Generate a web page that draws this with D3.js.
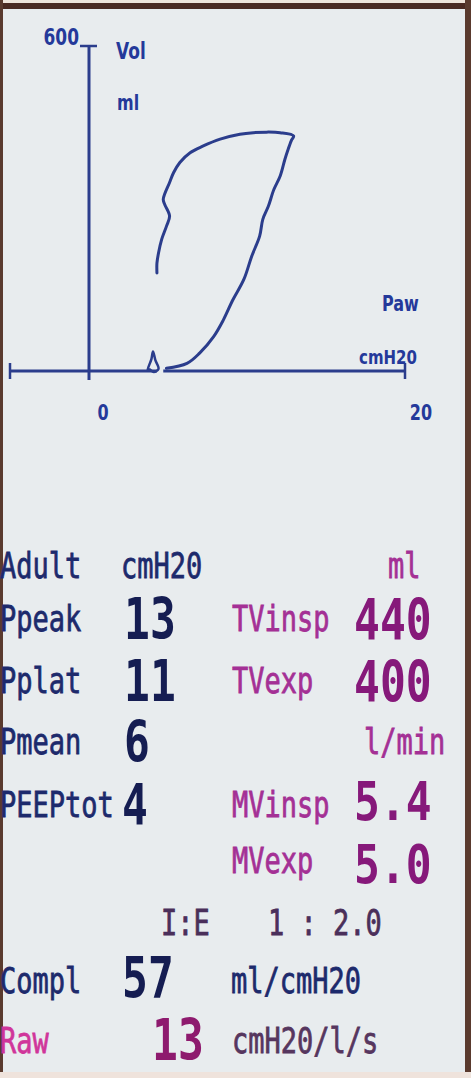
<!DOCTYPE html>
<html>
<head>
<meta charset="utf-8">
<script src="https://cdn.jsdelivr.net/npm/d3@7"></script>
<style>
  html, body { margin: 0; padding: 0; background: #e8ecee; }
  svg { display: block; }
</style>
</head>
<body>
<svg id="chart"></svg>
<script>
// Pressure / volume loop (cmH2O, ml)
const loopPressure = [4.9, 6.2, 7.0, 7.9, 8.5, 9.1, 9.8, 10.3, 10.8, 11.0, 11.35, 11.7, 12.1, 12.4, 12.6, 12.8, 12.95,
  12.1, 11.25, 10.4, 9.55, 8.3, 7.2, 6.4, 5.75, 5.35, 5.1, 4.7, 4.8, 5.1, 4.9, 4.6, 4.4, 4.3, 4.3];
const loopVolume = [5, 14, 33, 64, 94, 131, 169, 212, 249, 280, 304, 335, 360, 391, 409, 425, 434,
  440, 441, 440, 437, 428, 415, 403, 385, 366, 348, 317, 307, 286, 267, 243, 218, 199, 181];

// little start mark at the baseline
const markPressure = [3.7, 3.95, 4.05, 4.2, 4.4, 4.1, 3.8];
const markVolume = [1, 22, 36, 20, 4, -2, 3];

const xTicks = [0, 20];
const yTicks = [600];

// measured values panel
const leftLabels = ["Ppeak", "Pplat", "Pmean", "PEEPtot"];
const leftValues = ["13", "11", "6", "4"];
const rightLabels = ["TVinsp", "TVexp", "MVinsp", "MVexp"];
const rightValues = ["440", "400", "5.4", "5.0"];
const ieRatio = "1 : 2.0";
const complValue = "57";
const rawValue = "13";

const width = 471, height = 1078;
const navy = "#1d2a6c", navyDark = "#151d52", curveBlue = "#2b3d8c";
const magenta = "#a43095", magentaDark = "#86197a";

const svg = d3.select("#chart").attr("width", width).attr("height", height);

// frame
svg.append("rect").attr("width", width).attr("height", height).attr("fill", "#e8ecee");
svg.append("rect").attr("x", 0).attr("y", 0).attr("width", width).attr("height", 3).attr("fill", "#eee4da");
svg.append("rect").attr("x", 0).attr("y", 3).attr("width", width).attr("height", 6).attr("fill", "#4a2a22");
svg.append("rect").attr("x", 0).attr("y", 0).attr("width", 3).attr("height", height).attr("fill", "#5a3a2e");
svg.append("rect").attr("x", 465).attr("y", 0).attr("width", 6).attr("height", height).attr("fill", "#5a3a2e");
svg.append("rect").attr("x", 0).attr("y", 1072).attr("width", width).attr("height", 6).attr("fill", "#efe3dc");

// scales
const x = d3.scaleLinear().domain([-5, 20]).range([10, 405]);
const y = d3.scaleLinear().domain([0, 600]).range([371, 46]);

const plot = svg.append("g");

// x axis, with the small gap where the loop starts
[[-5, 4.3], [4.7, 20]].forEach(seg => {
  plot.append("line")
    .attr("x1", x(seg[0])).attr("x2", x(seg[1]))
    .attr("y1", y(0)).attr("y2", y(0))
    .attr("stroke", curveBlue).attr("stroke-width", 3);
});
[-5, 20].forEach(v => {
  plot.append("line")
    .attr("x1", x(v)).attr("x2", x(v))
    .attr("y1", y(0) - 8).attr("y2", y(0) + 8)
    .attr("stroke", curveBlue).attr("stroke-width", 2.5);
});

// y axis
plot.append("line")
  .attr("x1", x(0)).attr("x2", x(0))
  .attr("y1", y(600)).attr("y2", y(0) + 9)
  .attr("stroke", curveBlue).attr("stroke-width", 3);
yTicks.forEach(v => {
  plot.append("line")
    .attr("x1", x(0) - 9).attr("x2", x(0) + 8)
    .attr("y1", y(v)).attr("y2", y(v))
    .attr("stroke", curveBlue).attr("stroke-width", 2.5);
});

// text stretched vertically like the screen font
function label(g, txt, px, py, opts) {
  const t = g.append("text")
    .attr("transform", `translate(${px},${py}) scale(1,${opts.sy || 1.3})`)
    .attr("font-family", opts.family || "'DejaVu Sans Mono', monospace")
    .attr("font-size", opts.size)
    .attr("font-weight", opts.weight || "normal")
    .attr("fill", opts.color)
    .attr("text-anchor", opts.anchor || "start")
    .text(txt);
  if (opts.thick) t.attr("stroke", opts.color).attr("stroke-width", opts.thick);
  return t;
}

const axisFont = { family: "'DejaVu Sans', sans-serif", size: 16, weight: "bold", color: "#24399a", sy: 1.3 };
yTicks.forEach(v => label(plot, String(v), x(0) - 10, y(v) - 1, { ...axisFont, size: 17, anchor: "end" }));
label(plot, "Vol", 116, 59, { ...axisFont, size: 17 });
label(plot, "ml", 117, 110, axisFont);
label(plot, "Paw", 382, 311, axisFont);
label(plot, "cmH20", 359, 364, { ...axisFont, size: 15 });
xTicks.forEach(v => label(plot, String(v), x(v) + (v === 0 ? 14 : 16), 420, { ...axisFont, anchor: "middle" }));

// the loop
const line = d3.line().x(d => x(d[0])).y(d => y(d[1])).curve(d3.curveCatmullRom);
plot.append("path")
  .datum(d3.zip(loopPressure, loopVolume))
  .attr("d", line)
  .attr("fill", "none")
  .attr("stroke", curveBlue)
  .attr("stroke-width", 3)
  .attr("stroke-linejoin", "round")
  .attr("stroke-linecap", "round");
plot.append("path")
  .datum(d3.zip(markPressure, markVolume))
  .attr("d", d3.line().x(d => x(d[0])).y(d => y(d[1])).curve(d3.curveCatmullRomClosed))
  .attr("fill", "none")
  .attr("stroke", curveBlue)
  .attr("stroke-width", 2.5);

// values panel
const panel = svg.append("g");
const small = { size: 27, color: navy, sy: 1.3, thick: 0.6 };
const big = { size: 43, weight: "bold", color: navyDark, sy: 1.33 };
const rowY = [631, 693, 754, 817];

label(panel, "Adult", 0, 578, small);
label(panel, "cmH20", 121, 578, small);
label(panel, "ml", 388, 578, { ...small, color: magenta });

leftLabels.forEach((t, i) => label(panel, t, 0, rowY[i], small));
leftValues.forEach((t, i) => label(panel, t, i === 3 ? 122 : 124, rowY[i] + 8, big));

const rightY = [631, 693, 817, 873];
const rightValueY = [640, 702, 820, 883];
rightLabels.forEach((t, i) => label(panel, t, 232, rightY[i], { ...small, color: magenta }));
rightValues.forEach((t, i) => label(panel, t, 354, rightValueY[i],
  { ...big, color: magentaDark, sy: i >= 2 ? 1.26 : 1.33 }));
label(panel, "l/min", 364, 754, { ...small, color: magenta });

label(panel, "I:E", 161, 935, { ...small, color: "#4a2f5a" });
label(panel, ieRatio, 268, 935, { ...small, color: "#4a2f5a" });

label(panel, "Compl", 0, 993, small);
label(panel, complValue, 122, 998, big);
label(panel, "ml/cmH20", 231, 993, small);

label(panel, "Raw", 0, 1053, { ...small, color: "#d0359a" });
label(panel, rawValue, 152, 1060, { ...big, color: "#8e1a6e" });
label(panel, "cmH20/l/s", 232, 1053, { ...small, color: "#56365e" });
</script>
</body>
</html>
